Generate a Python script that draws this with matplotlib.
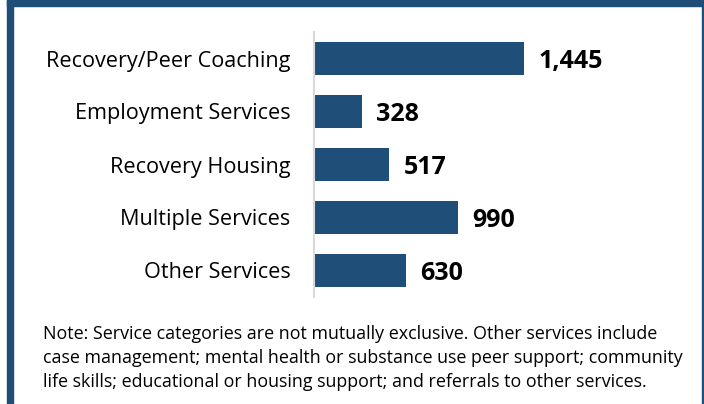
import matplotlib.pyplot as plt
from matplotlib.patches import Rectangle

plt.rcParams['font.family'] = ['Open Sans', 'DejaVu Sans']

categories = ['Recovery/Peer Coaching', 'Employment Services', 'Recovery Housing',
              'Multiple Services', 'Other Services']
counts = [1445, 328, 517, 990, 630]
note = ('Note: Service categories are not mutually exclusive. Other services include\n'
        'case management; mental health or substance use peer support; community\n'
        'life skills; educational or housing support; and referrals to other services.')

W, H = 704, 404
blue = '#1f4e79'

fig = plt.figure(figsize=(W / 100, H / 100), dpi=100)

# frame around the chart
fig.patches.append(Rectangle((7 / W, 1 - 6 / H), 1 - 7 / W, 6 / H, transform=fig.transFigure,
                             color=blue, zorder=0))
fig.patches.append(Rectangle((7 / W, 0), 6 / W, 1, transform=fig.transFigure,
                             color=blue, zorder=0))
fig.patches.append(Rectangle((701.5 / W, 0), 2.5 / W, 1, transform=fig.transFigure,
                             color=blue, zorder=0))

# axes in pixel coords: x 314..680, y 32..297 (from top)
ax = fig.add_axes([314 / W, 1 - 297 / H, (680 - 314) / W, (297 - 32) / H])
ypos = list(range(len(categories)))
ax.barh(ypos, counts, height=0.62, color=blue)
ax.set_xlim(0, (680 - 314) / 0.1453)
ax.set_ylim(4.5, -0.5)
ax.set_yticks(ypos)
ax.set_yticklabels(categories, fontsize=15.6)
ax.tick_params(axis='y', length=0, pad=17)
ax.set_xticks([])
for s in ['top', 'right', 'bottom']:
    ax.spines[s].set_visible(False)
ax.spines['left'].set_color('#d9d9d9')
ax.spines['left'].set_linewidth(1.5)

for y, v in zip(ypos, counts):
    ax.text(v + 100, y + 0.05, f'{v:,}', va='center', ha='left', fontsize=18,
            fontweight='bold', color='black')

fig.text(43 / W, 1 - 325 / H, note, fontsize=12.9, va='top', ha='left',
         linespacing=1.43, color='black')

fig.savefig('out.png', dpi=100)
